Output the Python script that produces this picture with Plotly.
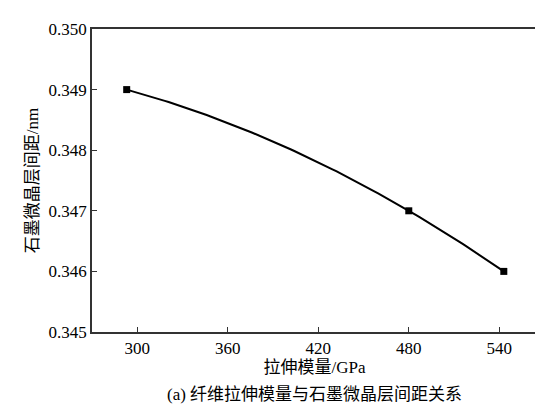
import numpy as np
import plotly.graph_objects as go

modulus = [293, 480, 543]
spacing = [0.349, 0.347, 0.346]
xticks = [300, 360, 420, 480, 540]
yticks = [0.345, 0.346, 0.347, 0.348, 0.349, 0.350]

# smooth quadratic curve through the measured points
coef = np.polyfit(modulus, spacing, 2)
xs = np.linspace(modulus[0], modulus[-1], 100)
fig = go.Figure()
fig.add_trace(go.Scatter(x=xs, y=np.polyval(coef, xs), mode="lines",
                         line=dict(color="black", width=2)))
fig.add_trace(go.Scatter(x=modulus, y=spacing, mode="markers",
                         marker=dict(symbol="square", size=7, color="black")))
font = dict(family="Liberation Serif, Noto Sans CJK SC", size=17, color="black")
axis = dict(showline=True, linecolor="#333", linewidth=1.5, mirror=True, ticks="inside",
            ticklen=5, tickcolor="#333", showgrid=False, zeroline=False, tickfont=font)
fig.update_xaxes(range=[270, 565], tickvals=xticks, **axis,
                 title=dict(text="拉伸模量/GPa", font=font, standoff=4))
fig.update_yaxes(range=[0.345, 0.350], tickvals=yticks, tickformat=".3f", **axis,
                 title=dict(text="石墨微晶层间距/nm", font=font, standoff=6))
fig.add_annotation(text="(a) 纤维拉伸模量与石墨微晶层间距关系", xref="paper", yref="paper",
                   x=0.5, y=-0.245, showarrow=False, font=font)
fig.update_layout(width=543, height=408, plot_bgcolor="white", paper_bgcolor="white",
                  showlegend=False, margin=dict(l=84, r=13, t=14, b=84))
fig.write_html("out.html")
